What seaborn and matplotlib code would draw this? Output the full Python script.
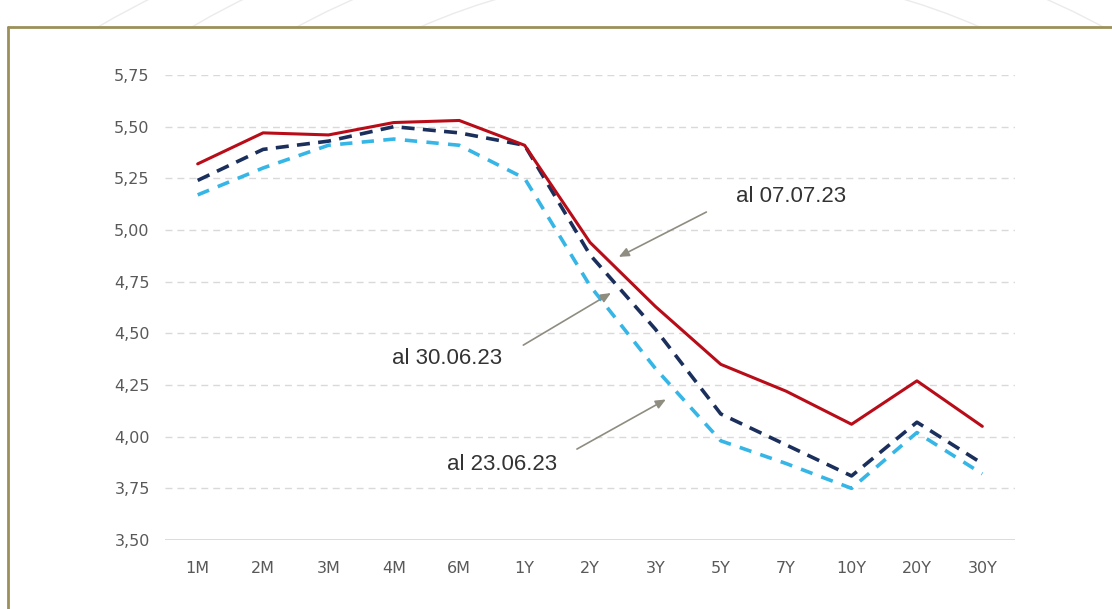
import numpy as np
import pandas as pd
import matplotlib
matplotlib.use("Agg")
import matplotlib.pyplot as plt
from matplotlib.patches import Ellipse, Rectangle
from matplotlib.lines import Line2D
import seaborn as sns

# Yield curve tenors
tenors = ["1M", "2M", "3M", "4M", "6M", "1Y", "2Y", "3Y", "5Y", "7Y", "10Y", "20Y", "30Y"]

# Curve levels (%) on three dates
curve_070723 = [5.32, 5.47, 5.46, 5.52, 5.53, 5.41, 4.94, 4.63, 4.35, 4.22, 4.06, 4.27, 4.05]
curve_300623 = [5.24, 5.39, 5.43, 5.50, 5.47, 5.41, 4.88, 4.52, 4.11, 3.96, 3.81, 4.07, 3.87]
curve_230623 = [5.17, 5.30, 5.41, 5.44, 5.41, 5.25, 4.73, 4.33, 3.98, 3.87, 3.75, 4.02, 3.82]

labels = ["al 07.07.23", "al 30.06.23", "al 23.06.23"]
y_ticks = [3.50, 3.75, 4.00, 4.25, 4.50, 4.75, 5.00, 5.25, 5.50, 5.75]

sns.set_theme(style="white")
plt.rcParams["font.family"] = ["DejaVu Sans"]

fig = plt.figure(figsize=(11.12, 6.09), dpi=100)
W, H = 1112, 609

# faint background ornament above the frame
for w, h in [(500, 600), (760, 700), (900, 700), (1100, 820), (1300, 900), (1500, 960), (1700, 1000)]:
    fig.add_artist(Ellipse((700 / W, 1 - 380 / H), w / W, h / H, transform=fig.transFigure,
                           fill=False, edgecolor="#ebebeb", lw=1.0, zorder=0))
fig.add_artist(Rectangle((0, 0), 1, 1 - 27 / H, transform=fig.transFigure,
                         facecolor="white", edgecolor="none", zorder=0.5))
# olive frame
fig.add_artist(Line2D([8 / W, 1.0], [1 - 27 / H, 1 - 27 / H], transform=fig.transFigure,
                      color="#9c8f58", lw=2.0, zorder=1))
fig.add_artist(Line2D([8 / W, 8 / W], [0, 1 - 27 / H], transform=fig.transFigure,
                      color="#9c8f58", lw=2.0, zorder=1))

ax = fig.add_axes([165 / W, 1 - 540 / H, 850 / W, 465 / H])
ax.set_zorder(3)
ax.set_facecolor("none")

df = pd.DataFrame({
    "tenor": tenors * 3,
    "rate": curve_230623 + curve_300623 + curve_070723,
    "date": [labels[2]] * len(tenors) + [labels[1]] * len(tenors) + [labels[0]] * len(tenors),
})

styles = {
    labels[2]: dict(color="#35b6e6", linewidth=2.6, linestyle=(0, (3.4, 2.6))),
    labels[1]: dict(color="#1b2f5c", linewidth=2.6, linestyle=(0, (3.6, 2.3))),
    labels[0]: dict(color="#b80d18", linewidth=2.2, linestyle="-"),
}
for name in [labels[2], labels[1], labels[0]]:
    sub = df[df["date"] == name]
    sns.lineplot(data=sub, x="tenor", y="rate", ax=ax, sort=False, legend=False,
                 zorder=3, **styles[name])

ax.set_xlim(-0.5, len(tenors) - 0.5)
ax.set_ylim(3.50, 5.75)
ax.set_yticks(y_ticks)
ax.set_yticklabels([f"{v:.2f}".replace(".", ",") for v in y_ticks])
ax.set_xlabel("")
ax.set_ylabel("")

for v in y_ticks[1:]:
    ax.axhline(v, color="#d9d9d9", lw=1.0, linestyle=(0, (5, 3.6)), zorder=1)
ax.axhline(3.50, color="#d9d9d9", lw=1.3, zorder=1)

for s in ax.spines.values():
    s.set_visible(False)
ax.tick_params(axis="both", length=0, labelsize=11.5, labelcolor="#595959")
ax.tick_params(axis="y", pad=11)
ax.tick_params(axis="x", pad=15)

arrow_kw = dict(arrowstyle="-|>,head_length=0.5,head_width=0.22", color="#8f8c80", lw=1.2,
                shrinkA=0, shrinkB=0)
text_kw = dict(fontsize=16, color="#333333", ha="center", va="center",
               family=["Liberation Sans", "DejaVu Sans"])

ax.text(9.08, 5.16, labels[0], **text_kw)
ax.annotate("", xy=(6.44, 4.87), xytext=(7.78, 5.087), arrowprops=arrow_kw, zorder=4)

ax.text(3.82, 4.38, labels[1], **text_kw)
ax.annotate("", xy=(6.32, 4.695), xytext=(4.98, 4.443), arrowprops=arrow_kw, zorder=4)

ax.text(4.66, 3.863, labels[2], **text_kw)
ax.annotate("", xy=(7.16, 4.18), xytext=(5.80, 3.94), arrowprops=arrow_kw, zorder=4)

fig.savefig("out.png", dpi=100)
